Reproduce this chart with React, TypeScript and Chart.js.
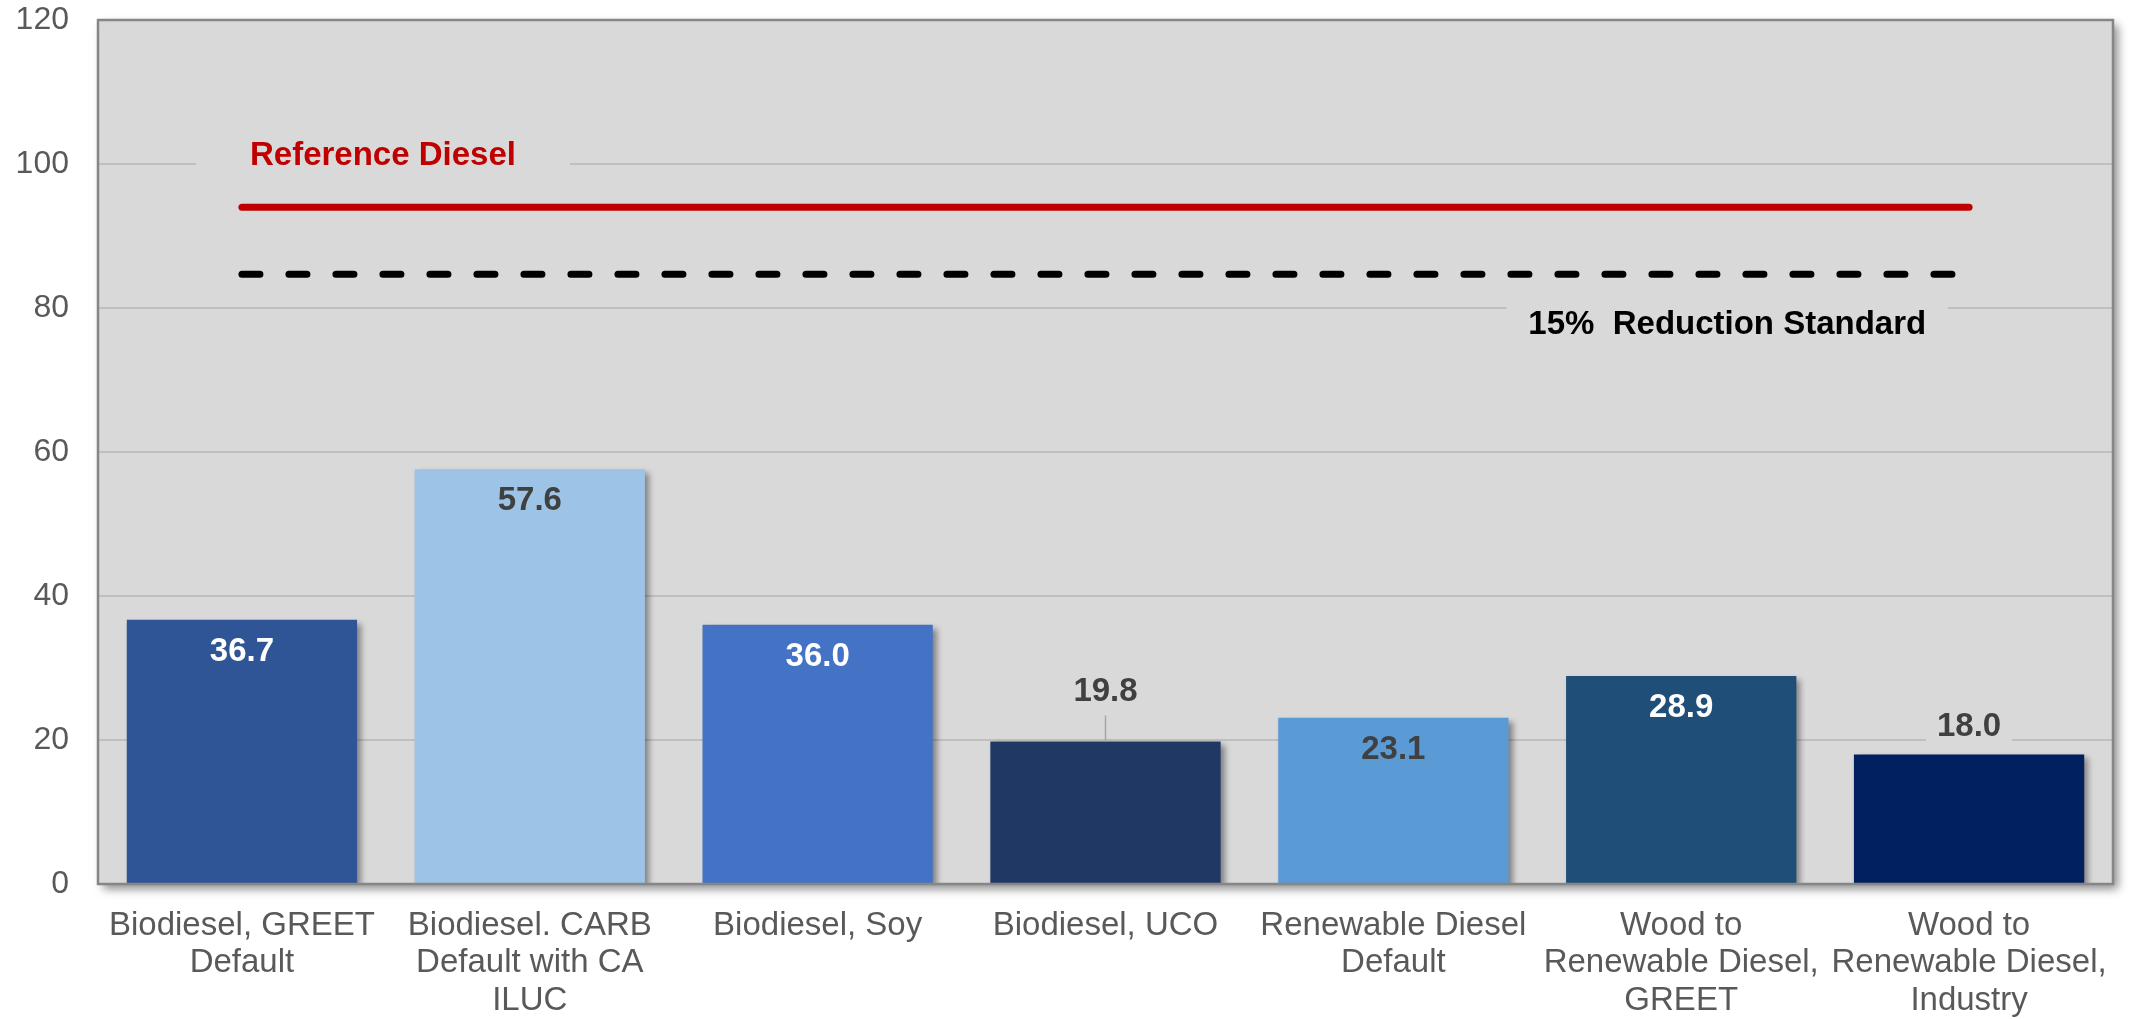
import React, { useEffect, useRef } from "react";
import { Chart, registerables } from "chart.js";

Chart.register(...registerables);

// ---- data ----
const categories: string[][] = [
  ["Biodiesel, GREET", "Default"],
  ["Biodiesel. CARB", "Default with CA", "ILUC"],
  ["Biodiesel, Soy"],
  ["Biodiesel, UCO"],
  ["Renewable Diesel", "Default"],
  ["Wood to", "Renewable Diesel,", "GREET"],
  ["Wood to", "Renewable Diesel,", "Industry"],
];
const values: number[] = [36.7, 57.6, 36.0, 19.8, 23.1, 28.9, 18.0];
const referenceDiesel = 94.0;
const reductionStandard = 84.7;
const yMin = 0;
const yMax = 120;
const yStep = 20;

// ---- styles ----
const barColors = ["#2F5597", "#9DC3E6", "#4472C4", "#1F3864", "#5B9BD5", "#1F4E79", "#002060"];
const labelColors = ["#FFFFFF", "#404040", "#FFFFFF", "#404040", "#404040", "#FFFFFF", "#404040"];
const labelPlacement = ["inside", "inside", "inside", "leader", "inside", "inside", "outside"];
const FONT = '"Liberation Sans", Arial, Helvetica, sans-serif';
const PLOT_BG = "#D9D9D9";

const lineLabels = [
  { text: "Reference Diesel", color: "#C00000", xIndex: 0.49, yValue: 101.1, boxWidth: 374 },
  { text: "15%  Reduction Standard", color: "#000000", xIndex: 5.16, yValue: 77.6, boxWidth: 441 },
];

const framePlugin = {
  id: "frame",
  beforeDraw(chart: any) {
    const { ctx, chartArea: a } = chart;
    ctx.save();
    ctx.shadowColor = "rgba(0,0,0,0.45)";
    ctx.shadowBlur = 9;
    ctx.shadowOffsetX = 5;
    ctx.shadowOffsetY = 5;
    ctx.fillStyle = PLOT_BG;
    ctx.fillRect(a.left, a.top, a.width, a.height);
    ctx.restore();
  },
  beforeDatasetsDraw(chart: any) {
    const { ctx } = chart;
    const xs = chart.scales.x;
    const ys = chart.scales.y;
    ctx.save();
    ctx.font = `bold 33px ${FONT}`;
    ctx.textAlign = "center";
    ctx.textBaseline = "middle";
    for (const l of lineLabels) {
      const x = xs.getPixelForValue(l.xIndex);
      const y = ys.getPixelForValue(l.yValue);
      ctx.fillStyle = PLOT_BG;
      ctx.fillRect(x - l.boxWidth / 2, y - 22, l.boxWidth, 44);
      ctx.fillStyle = l.color;
      ctx.fillText(l.text, x, y);
    }
    ctx.restore();
  },
  beforeDatasetDraw(chart: any, args: any) {
    if (args.index !== 0) return;
    const ctx = chart.ctx;
    ctx.save();
    ctx.shadowColor = "rgba(0,0,0,0.4)";
    ctx.shadowBlur = 6;
    ctx.shadowOffsetX = 4;
    ctx.shadowOffsetY = 4;
  },
  afterDatasetDraw(chart: any, args: any) {
    if (args.index !== 0) return;
    chart.ctx.restore();
  },
  afterDatasetsDraw(chart: any) {
    const { ctx, chartArea: a } = chart;
    ctx.save();
    ctx.strokeStyle = "#868686";
    ctx.lineWidth = 2.5;
    ctx.strokeRect(a.left, a.top, a.width, a.height);
    ctx.restore();

    const meta = chart.getDatasetMeta(0);
    ctx.save();
    ctx.font = `bold 33px ${FONT}`;
    ctx.textAlign = "center";
    ctx.textBaseline = "middle";
    meta.data.forEach((el: any, i: number) => {
      const txt = values[i].toFixed(1);
      const place = labelPlacement[i];
      let y: number;
      if (place === "inside") {
        y = el.y + 32;
      } else if (place === "outside") {
        y = el.y - 27;
        const w = ctx.measureText(txt).width + 22;
        ctx.fillStyle = PLOT_BG;
        ctx.fillRect(el.x - w / 2, y - 20, w, 40);
      } else {
        y = el.y - 50;
        ctx.strokeStyle = "#A6A6A6";
        ctx.lineWidth = 1.5;
        ctx.beginPath();
        ctx.moveTo(el.x, y + 24);
        ctx.lineTo(el.x, el.y);
        ctx.stroke();
      }
      ctx.fillStyle = labelColors[i];
      ctx.fillText(txt, el.x, y);
    });
    ctx.restore();
  },
};

export default function App() {
  const canvasRef = useRef<HTMLCanvasElement | null>(null);

  useEffect(() => {
    document.body.style.margin = "0";
    const canvas = canvasRef.current!;
    const chart = new Chart(canvas, {
      type: "bar",
      data: {
        labels: categories as any,
        datasets: [
          {
            type: "bar",
            data: values,
            backgroundColor: barColors,
            borderWidth: 0,
            categoryPercentage: 0.8,
            barPercentage: 1.0,
            order: 2,
          } as any,
          {
            type: "line",
            data: categories.map(() => referenceDiesel),
            borderColor: "#C00000",
            borderWidth: 7,
            borderCapStyle: "round",
            pointRadius: 0,
            fill: false,
            order: 1,
          } as any,
          {
            type: "line",
            data: categories.map(() => reductionStandard),
            borderColor: "#000000",
            borderWidth: 7,
            borderCapStyle: "round",
            borderDash: [18, 29],
            pointRadius: 0,
            fill: false,
            order: 1,
          } as any,
        ],
      },
      options: {
        responsive: false,
        animation: false,
        layout: { padding: { top: 20, right: 18, left: 0, bottom: 0 } },
        plugins: {
          legend: { display: false },
          tooltip: { enabled: false },
        },
        scales: {
          x: {
            offset: true,
            grid: { display: false, drawTicks: false },
            border: { display: false },
            ticks: {
              autoSkip: false,
              maxRotation: 0,
              minRotation: 0,
              padding: 23,
              color: "#595959",
              font: { family: FONT, size: 33, lineHeight: 1.136 },
            },
            afterFit: (s: any) => {
              s.height = 135;
            },
          },
          y: {
            min: yMin,
            max: yMax,
            grid: { color: "#BFBFBF", lineWidth: 2, drawTicks: false },
            border: { display: false },
            ticks: {
              stepSize: yStep,
              padding: 29,
              color: "#595959",
              font: { family: FONT, size: 32 },
            },
            afterFit: (s: any) => {
              s.width = 98;
              s.paddingTop = 0;
              s.paddingBottom = 0;
            },
          },
        },
      },
      plugins: [framePlugin],
    });
    return () => chart.destroy();
  }, []);

  return (
    <div style={{ position: "absolute", left: 0, top: 0, width: 2131, height: 1019, background: "#fff" }}>
      <canvas ref={canvasRef} width={2131} height={1019} />
    </div>
  );
}
